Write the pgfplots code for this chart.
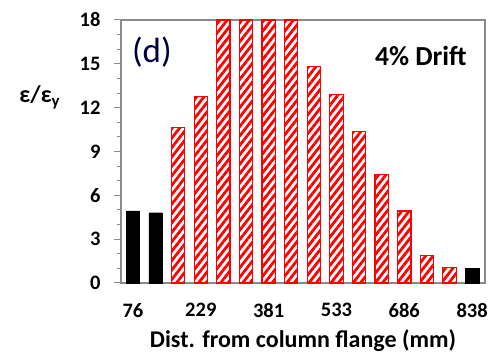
\documentclass[border=0pt]{standalone}
\usepackage{pgfplots}
\pgfplotsset{compat=1.18}
\usepackage{fontspec}
\setmainfont{Carlito}
\usetikzlibrary{patterns.meta,calc}
\definecolor{axgray}{HTML}{8A8A8A}
\begin{document}
\begin{tikzpicture}
\begin{axis}[
  name=ax,
  scale only axis,
  width=364pt, height=263pt,
  xmin=-0.53, xmax=15.57,
  ymin=0, ymax=18,
  xtick={0,3,6,9,12,15},
  xticklabels={76,229,381,533,686,838},
  x tick style={draw=none},
  ytick={0,3,...,18},
  minor y tick num=2,
  tick align=outside,
  major tick length=7pt,
  minor tick length=4pt,
  y tick style={axgray, line width=1pt},
  xtick pos=bottom, ytick pos=left,
  axis line style={axgray, line width=1.2pt},
  /pgf/number format/assume math mode=true,
  tick label style={font=\fontsize{20.5}{24}\selectfont\bfseries},
  yticklabel style={xshift=-10pt},
  xticklabel style={yshift=-10pt},
  xlabel={Dist. from column flange (mm)},
  xlabel style={font=\fontsize{24}{28}\selectfont\bfseries, yshift=-5pt},
  clip=false,
]
\addplot[ybar, bar width=13.3pt, bar shift=0pt, fill=black, draw=black]
  coordinates {(0,4.93) (1,4.81) (15,0.98)};
\addplot[ybar, bar width=13.3pt, bar shift=0pt, draw=red, line width=1.2pt,
  pattern={Lines[angle=52, distance=5.8pt, line width=2.8pt]}, pattern color=red]
  coordinates {(2,10.65) (3,12.78) (4,18) (5,18) (6,18) (7,18) (8,14.83)
    (9,12.89) (10,10.38) (11,7.41) (12,4.93) (13,1.87) (14,1.05)};
\node[font=\fontsize{24}{28}\selectfont\bfseries] at (axis description cs:-0.223,0.707) {ε/ε\textsubscript{y}};
\node[font=\fontsize{35}{40}\selectfont, text=black!75!blue] at (axis description cs:0.085,0.876) {(d)};
\node[font=\fontsize{27.5}{31}\selectfont\bfseries] at (axis description cs:0.824,0.863) {4\% Drift};
\end{axis}
\pgfresetboundingbox
\path ($(ax.south west)+(-121pt,-75pt)$) rectangle ($(ax.north east)+(11pt,20pt)$);
\end{tikzpicture}
\end{document}
